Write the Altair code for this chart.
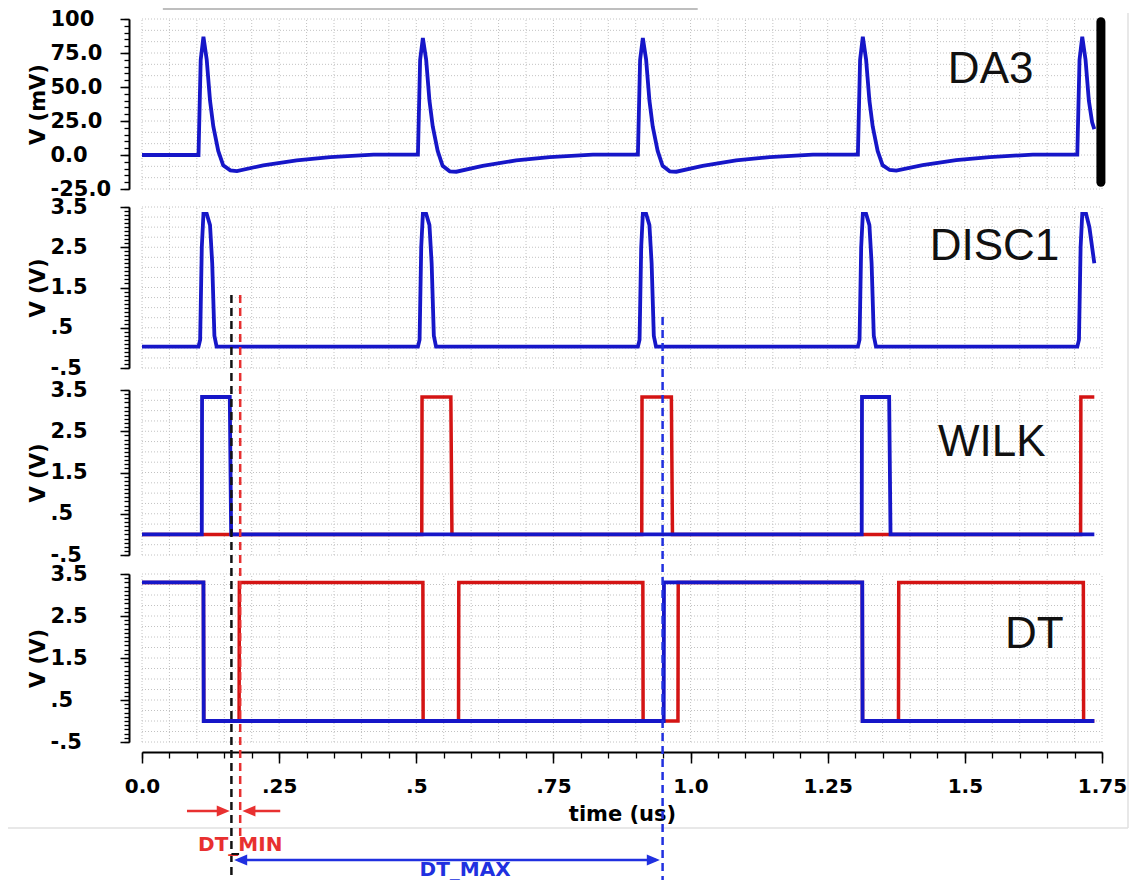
import altair as alt
import numpy as np
import pandas as pd

# ---------------- data ----------------
DA3_T = [0.000, 0.103, 0.107, 0.112, 0.118, 0.124, 0.130, 0.139, 0.148, 0.161, 0.173, 0.221, 0.282, 0.343, 0.422,
         0.503, 0.507, 0.512, 0.518, 0.524, 0.530, 0.539, 0.548, 0.561, 0.573, 0.621, 0.682, 0.743, 0.822,
         0.904, 0.908, 0.913, 0.919, 0.925, 0.931, 0.940, 0.949, 0.962, 0.974, 1.022, 1.083, 1.144, 1.223,
         1.305, 1.309, 1.314, 1.320, 1.326, 1.332, 1.341, 1.350, 1.363, 1.375, 1.423, 1.484, 1.545, 1.624,
         1.705, 1.709, 1.714, 1.720, 1.726, 1.732, 1.736]
DA3_V = [0.0, 0.0, 70, 87, 70, 40, 21, 3, -7.6, -11.3, -11.8, -7.6, -3.9, -1.5, 0.3,
         0.3, 70, 86, 70, 40, 21, 3, -8.0, -12.0, -12.3, -8.0, -4.0, -1.5, 0.3,
         0.3, 70, 86, 70, 40, 21, 3, -8.0, -12.0, -12.3, -8.0, -4.0, -1.5, 0.3,
         0.3, 70, 87, 70, 40, 21, 3, -7.5, -11.0, -11.5, -7.5, -3.8, -1.5, 0.3,
         0.3, 70, 87, 70, 40, 24, 19]

DISC1_T = [0.000, 0.103, 0.106, 0.109, 0.112, 0.118, 0.124, 0.128, 0.132, 0.136,
           0.503, 0.506, 0.509, 0.512, 0.518, 0.524, 0.528, 0.532, 0.536,
           0.904, 0.907, 0.910, 0.913, 0.919, 0.925, 0.929, 0.933, 0.937,
           1.305, 1.308, 1.311, 1.314, 1.320, 1.326, 1.330, 1.334, 1.338,
           1.705, 1.708, 1.711, 1.714, 1.721, 1.727, 1.736]
DISC1_V = [0.03, 0.03, 0.2, 2.5, 3.33, 3.33, 3.05, 2.1, 0.3, 0.03,
           0.03, 0.2, 2.5, 3.33, 3.33, 3.05, 2.1, 0.3, 0.03,
           0.03, 0.2, 2.5, 3.33, 3.33, 3.05, 2.1, 0.3, 0.03,
           0.03, 0.2, 2.5, 3.33, 3.33, 3.05, 2.1, 0.3, 0.03,
           0.03, 0.2, 2.5, 3.33, 3.33, 3.0, 2.1]

WILK_BLUE_T = [0.000, 0.109, 0.1095, 0.160, 0.1625, 1.312, 1.3125, 1.362, 1.3645, 1.736]
WILK_BLUE_V = [0.0, 0.0, 3.33, 3.33, 0.0, 0.0, 3.33, 3.33, 0.0, 0.0]
WILK_RED_T = [0.000, 0.510, 0.5105, 0.563, 0.565, 0.911, 0.9115, 0.965, 0.967, 1.711, 1.7115, 1.736]
WILK_RED_V = [0.0, 0.0, 3.33, 3.33, 0.0, 0.0, 3.33, 3.33, 0.0, 0.0, 3.33, 3.33]

DT_BLUE_T = [0.000, 0.112, 0.1125, 0.951, 0.9515, 1.313, 1.3135, 1.736]
DT_BLUE_V = [3.3, 3.3, 0.0, 0.0, 3.3, 3.3, 0.0, 0.0]
DT_RED_T = [0.000, 0.112, 0.1125, 0.177, 0.1775, 0.512, 0.5125, 0.577, 0.5775, 0.913, 0.9135,
            0.977, 0.9775, 1.313, 1.3135, 1.379, 1.3795, 1.716, 1.7165, 1.736]
DT_RED_V = [3.3, 3.3, 0.0, 0.0, 3.3, 3.3, 0.0, 0.0, 3.3, 3.3, 0.0,
            0.0, 3.3, 3.3, 0.0, 0.0, 3.3, 3.3, 0.0, 0.0]

MARKER_BLACK_T = 0.163
MARKER_RED_T = 0.179
MARKER_BLUE_T = 0.949

X_MAJOR = [0.0, 0.25, 0.5, 0.75, 1.0, 1.25, 1.5, 1.75]
DA3_MAJOR = [-25, 0, 25, 50, 75, 100]
V_MAJOR = [-0.5, 0.5, 1.5, 2.5, 3.5]
PANEL_NAMES = ["DA3", "DISC1", "WILK", "DT"]
PANEL_LABEL_T = [1.469, 1.436, 1.451, 1.573]
PANEL_LABEL_V = [62.5, 2.51, 2.22, 2.05]

# ---------------- styling / layout ----------------
FONT = "Liberation Sans"
AXFONT = "DejaVu Sans"
BLUE = "#1616c8"
RED = "#d41414"
W, H = 960, 733
X_DOMAIN = [0, 1.75]

MINUS = "\u2212"
VFMT = f"replace(replace(format(datum.value, '.1f'), '{MINUS}', '-'), '0.', '.')"
MVFMT = f"datum.value == 100 ? '100' : replace(format(datum.value, '.1f'), '{MINUS}', '-')"
XFMT = ("datum.value == 0 ? '0.0' : datum.value == 1 ? '1.0' : "
        "replace(format(datum.value, '.2~f'), '0.', '.')")

PANEL = {
    "DA3": dict(domain=[-25, 100], range=[170, 0], major=DA3_MAJOR, minor=5, grid=25 / 3,
                title="V (mV)", fmt=MVFMT),
    "DISC1": dict(domain=[-0.5, 3.5], range=[349, 188], major=V_MAJOR, minor=0.1, grid=0.25,
                  title="V (V)", fmt=VFMT),
    "WILK": dict(domain=[-0.5, 3.5], range=[536, 371], major=V_MAJOR, minor=0.1, grid=0.25,
                 title="V (V)", fmt=VFMT),
    "DT": dict(domain=[-0.5, 3.5], range=[723, 555], major=V_MAJOR, minor=0.1, grid=0.25,
               title="V (V)", fmt=VFMT),
}

SERIES = {
    "DA3": [(BLUE, DA3_T, DA3_V)],
    "DISC1": [(BLUE, DISC1_T, DISC1_V)],
    "WILK": [(RED, WILK_RED_T, WILK_RED_V), (BLUE, WILK_BLUE_T, WILK_BLUE_V)],
    "DT": [(RED, DT_RED_T, DT_RED_V), (BLUE, DT_BLUE_T, DT_BLUE_V)],
}


def steps(lo, hi, step):
    return [float(round(v, 4)) for v in np.arange(lo, hi + step / 2, step)]


X_MINOR = steps(0, 1.75, 0.05)


def xs():
    return alt.Scale(domain=X_DOMAIN, nice=False, zero=False)


def ys(p):
    c = PANEL[p]
    return alt.Scale(domain=c["domain"], range=c["range"], nice=False, zero=False)


def y_minor_axis(p):
    c = PANEL[p]
    return alt.Axis(orient="left", offset=13, values=steps(c["domain"][0], c["domain"][1], c["minor"]),
                    labels=False, ticks=True, tickSize=5, tickWidth=1.3, tickColor="black",
                    domain=True, domainColor="black", domainWidth=2, grid=False, title=None)


def y_major_axis(p):
    c = PANEL[p]
    return alt.Axis(orient="left", offset=13, values=c["major"], labelExpr=c["fmt"],
                    labelAlign="left", labelBaseline="middle", labelPadding=70,
                    labelFont=AXFONT, labelFontSize=21, labelFontWeight="bold", labelColor="black",
                    labelOverlap=False, labelFlush=False, ticks=True, tickSize=9, tickWidth=1.5,
                    tickColor="black", domain=False, grid=False, title=c["title"], titleFont=AXFONT,
                    titleFontSize=21, titleFontWeight="bold", titleColor="black", titleX=-91,
                    titleBaseline="middle")


x_minor_axis = alt.Axis(orient="bottom", values=X_MINOR, labels=False, ticks=True, tickSize=6,
                        tickWidth=1.3, tickColor="black", domain=True, domainColor="black",
                        domainWidth=2, grid=False, title=None)
x_major_axis = alt.Axis(orient="bottom", values=X_MAJOR, labelExpr=XFMT, labelFont=AXFONT,
                        labelFontSize=20, labelFontWeight="bold", labelColor="black",
                        labelPadding=13, labelFlush=False, labelOverlap=False, ticks=True,
                        tickSize=11, tickWidth=1.5, tickColor="black", domain=False, grid=False,
                        title="time (us)", titleFont=AXFONT, titleFontSize=21, titleFontWeight="bold",
                        titleColor="black", titleY=62, titleBaseline="middle")

layers = []

# faint outer frame of the original screenshot
layers.append(
    alt.Chart(pd.DataFrame({"k": [0]})).mark_rule(color="#e0e0e0", strokeWidth=1.5).encode(
        x=alt.value(986), y=alt.value(-6), y2=alt.value(809))
)
layers.append(
    alt.Chart(pd.DataFrame({"k": [0]})).mark_rule(color="#e0e0e0", strokeWidth=1.5).encode(
        x=alt.value(-134), x2=alt.value(986), y=alt.value(809))
)

# panels: grid, waveforms, name label
for i, p in enumerate(PANEL_NAMES):
    c = PANEL[p]
    lo, hi = c["domain"]
    gv = pd.DataFrame({"x": X_MINOR, "x2": X_MINOR, "y": lo, "y2": hi})
    levels = steps(lo, hi, c["grid"])
    gh = pd.DataFrame({"x": 0.0, "x2": 1.75, "y": levels, "y2": levels})
    grid = pd.concat([gv, gh], ignore_index=True)
    layers.append(
        alt.Chart(grid).mark_rule(color="#c2c2c2", strokeWidth=1, strokeDash=[1, 2]).encode(
            x=alt.X("x:Q", scale=xs(), axis=x_minor_axis if p == "DT" else None),
            x2="x2:Q",
            y=alt.Y("y:Q", scale=ys(p), axis=y_minor_axis(p)),
            y2="y2:Q",
        )
    )
    for j, (col, tt, vv) in enumerate(SERIES[p]):
        df = pd.DataFrame({"t": tt, "v": vv})
        layers.append(
            alt.Chart(df).mark_line(color=col, strokeWidth=3.8 if col == BLUE else 3.5,
                                    strokeJoin="miter").encode(
                x=alt.X("t:Q", scale=xs(), axis=(x_major_axis if (p == "DT" and j == 0) else None)),
                y=alt.Y("v:Q", scale=ys(p), axis=(y_major_axis(p) if j == 0 else None)),
                order="t:Q",
            )
        )
    lab = pd.DataFrame({"t": [PANEL_LABEL_T[i]], "v": [PANEL_LABEL_V[i]], "name": [p]})
    layers.append(
        alt.Chart(lab).mark_text(align="left", baseline="middle", font=FONT, fontSize=44,
                                 color="#111111").encode(
            x=alt.X("t:Q", scale=xs(), axis=None),
            y=alt.Y("v:Q", scale=ys(p), axis=None),
            text="name:N",
        )
    )

# cursor bar at the end of DA3
bar = pd.DataFrame({"t": [1.748], "v1": [98.0], "v2": [-20.0]})
layers.append(
    alt.Chart(bar).mark_rule(color="black", strokeWidth=9, strokeCap="round").encode(
        x=alt.X("t:Q", scale=xs(), axis=None),
        y=alt.Y("v1:Q", scale=ys("DA3"), axis=None),
        y2="v2:Q",
    )
)

# thin grey line above the plot
top = pd.DataFrame({"a": [0.038], "b": [1.013]})
layers.append(
    alt.Chart(top).mark_rule(color="#a8a8a8", strokeWidth=1.5).encode(
        x=alt.X("a:Q", scale=xs(), axis=None), x2="b:Q", y=alt.value(-10)
    )
)


def vdash(t, y1, y2, color):
    return alt.Chart(pd.DataFrame({"t": [t]})).mark_rule(
        color=color, strokeWidth=2.5, strokeDash=[8, 5]).encode(
        x=alt.X("t:Q", scale=xs(), axis=None), y=alt.value(y1), y2=alt.value(y2))


def shaft(a, b, y, color, width=2.5):
    return alt.Chart(pd.DataFrame({"a": [a], "b": [b]})).mark_rule(
        color=color, strokeWidth=width).encode(
        x=alt.X("a:Q", scale=xs(), axis=None), x2="b:Q", y=alt.value(y))


RIGHT_HEAD = "M0,0L-1,-0.42L-1,0.42Z"
LEFT_HEAD = "M0,0L1,-0.42L1,0.42Z"


def head(t, y, color, shape):
    return alt.Chart(pd.DataFrame({"t": [t]})).mark_point(
        shape=shape, filled=True, size=680, color=color, opacity=1, strokeWidth=0).encode(
        x=alt.X("t:Q", scale=xs(), axis=None), y=alt.value(y))


def label(t, y, text, color, size):
    return alt.Chart(pd.DataFrame({"t": [t]})).mark_text(
        text=text, font=AXFONT, fontSize=size, fontWeight="bold", color=color,
        align="center", baseline="middle").encode(
        x=alt.X("t:Q", scale=xs(), axis=None), y=alt.value(y))


DASH_RED = "#e83030"
DASH_BLUE = "#2030e0"
layers += [
    vdash(MARKER_BLACK_T, 276, 868, "#111111"),
    vdash(MARKER_RED_T, 276, 820, DASH_RED),
    vdash(MARKER_BLUE_T, 298, 868, DASH_BLUE),
    # DT_MIN arrows
    shaft(0.082, 0.150, 792, DASH_RED),
    head(MARKER_BLACK_T - 0.003, 792, DASH_RED, RIGHT_HEAD),
    shaft(0.192, 0.252, 792, DASH_RED),
    head(MARKER_RED_T + 0.004, 792, DASH_RED, LEFT_HEAD),
    label(MARKER_RED_T, 826, "DT_MIN", DASH_RED, 20),
    # small black bracket at the start of DT_MAX
    shaft(MARKER_BLACK_T, MARKER_BLACK_T + 0.014, 835, "#111111", 2),
    # DT_MAX double arrow
    shaft(MARKER_BLACK_T + 0.012, MARKER_BLUE_T - 0.012, 841, DASH_BLUE),
    head(MARKER_BLACK_T + 0.005, 841, DASH_BLUE, LEFT_HEAD),
    head(MARKER_BLUE_T - 0.005, 841, DASH_BLUE, RIGHT_HEAD),
    label(0.589, 851, "DT_MAX", DASH_BLUE, 20),
]

chart = alt.layer(*layers).resolve_scale(x="independent", y="independent").properties(
    width=W,
    height=H,
    autosize=alt.AutoSizeParams(type="none"),
    padding={"left": 134, "top": 11, "right": 30, "bottom": 128},
    background="white",
).configure_view(stroke=None)

chart.save("out.html", embed_options={"renderer": "svg", "actions": False})
